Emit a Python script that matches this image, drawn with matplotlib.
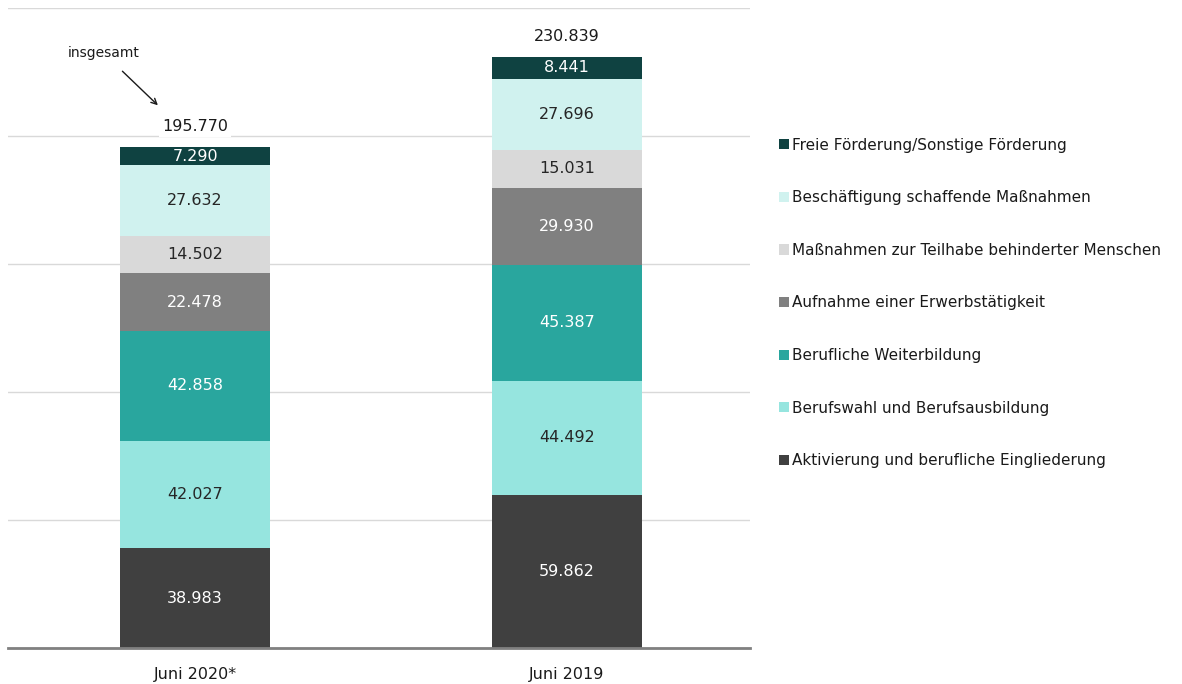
import numpy as np
import matplotlib.pyplot as plt
from matplotlib.patches import Patch

plt.rcParams['font.family'] = ['DejaVu Sans']

categories = ["Juni 2020*", "Juni 2019"]
series = [
    "Aktivierung und berufliche Eingliederung",
    "Berufswahl und Berufsausbildung",
    "Berufliche Weiterbildung",
    "Aufnahme einer Erwerbstätigkeit",
    "Maßnahmen zur Teilhabe behinderter Menschen",
    "Beschäftigung schaffende Maßnahmen",
    "Freie Förderung/Sonstige Förderung",
]
values = [
    [38983, 59862],
    [42027, 44492],
    [42858, 45387],
    [22478, 29930],
    [14502, 15031],
    [27632, 27696],
    [7290, 8441],
]
totals = [195770, 230839]

colors = ["#404040", "#96E5DF", "#29A69E", "#808080", "#D9D9D9", "#D0F2EF", "#0F4241"]
text_colors = ["white", "#262626", "white", "white", "#262626", "#262626", "white"]


def fmt(v):
    return f"{v:,}".replace(",", ".")


fig = plt.figure(figsize=(11.82, 6.84), dpi=100)
ax = fig.add_axes([8 / 1182, 36 / 684, 742 / 1182, 640 / 684])

x = np.arange(len(categories))
bottom = np.zeros(len(categories))
for vals, col, tc in zip(values, colors, text_colors):
    vals = np.array(vals)
    ax.bar(x, vals, width=0.403, bottom=bottom, color=col, zorder=2)
    for xi, b, v in zip(x, bottom, vals):
        ax.text(xi, b + v / 2, fmt(v), ha="center", va="center",
                color=tc, fontsize=11.5, zorder=3)
    bottom += vals

for xi, t in zip(x, totals):
    ax.text(xi, t + 8000, fmt(t), ha="center", va="center", fontsize=11.5,
            color="#1a1a1a", zorder=3,
            bbox=dict(facecolor="white", edgecolor="none", pad=2))

ax.annotate("insgesamt", xy=(-0.10, 212000), xytext=(-0.247, 232500),
            ha="center", va="center", fontsize=10, color="#1a1a1a",
            arrowprops=dict(arrowstyle="->", color="#1a1a1a", lw=1,
                            shrinkA=9, shrinkB=0))

ax.set_ylim(0, 250000)
ax.set_xlim(-0.503, 1.492)
ax.set_yticks(np.arange(0, 250001, 50000))
ax.yaxis.grid(True, color="#D9D9D9", lw=1, zorder=0)
ax.tick_params(left=False, labelleft=False, bottom=False, labelsize=11.5, pad=10)
ax.set_xticks(x)
ax.set_xticklabels(categories, color="#1a1a1a")
for s in ["top", "left", "right"]:
    ax.spines[s].set_visible(False)
ax.spines["bottom"].set_color("#808080")
ax.spines["bottom"].set_linewidth(2)
ax.spines["bottom"].set_zorder(4)

handles = [Patch(facecolor=c, edgecolor="none") for c in colors]
leg = fig.legend(handles[::-1], series[::-1], loc="upper left",
                 bbox_to_anchor=(771 / 1182, 1 - 130 / 684), frameon=False,
                 fontsize=11, handlelength=0.65, handleheight=0.65,
                 handletextpad=0.25, labelspacing=2.46, borderpad=0)
for t in leg.get_texts():
    t.set_color("#1a1a1a")

fig.savefig("out.png", dpi=100)
